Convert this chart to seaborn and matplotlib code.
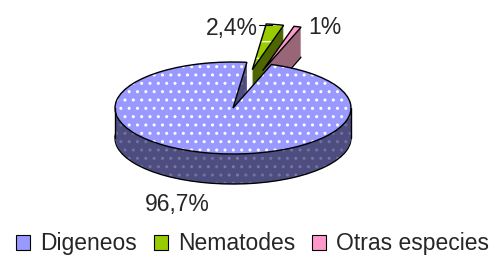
import matplotlib
matplotlib.use("Agg")
import matplotlib.pyplot as plt
from matplotlib.lines import Line2D
import seaborn as sns

# datos del grafico
categorias = ["Digeneos", "Nematodes", "Otras especies"]
porcentajes = [96.7, 2.4, 1.0]
etiquetas = ["96,7%", "2,4%", "1%"]
colores_sup = ["#9999ff", "#99cc00", "#ff99cc"]
colores_lado = ["#4d4d80", "#4d6600", "#996677"]

sns.set_style("white")
plt.rcParams["font.family"] = ["Liberation Sans", "DejaVu Sans"]
plt.rcParams["hatch.linewidth"] = 1.0

W, H = 500, 260
cx, cy = 233, 108      # centro de la elipse (px)
a, b = 118, 46         # semiejes (px)
prof = 30 / b          # espesor en unidades de y
n_capas = 30
explode = [0, 0.85, 0.85]
inicio = 71

fig = plt.figure(figsize=(W / 100, H / 100), dpi=100)
ax = fig.add_axes([0, 0, 1, 1])

def dibujar(dz, caras, borde, z, relleno=True):
    wedges, _ = ax.pie(porcentajes, explode=explode, startangle=inicio,
                       counterclock=False, center=(0, -dz), colors=caras,
                       wedgeprops=dict(linewidth=1.0 if borde else 0,
                                       edgecolor=borde if borde else "none"))
    for i, w in enumerate(wedges):
        base = 1 if i > 0 else 3
        w.set_zorder(base + z)
        if not relleno:
            w.set_fill(False)
    return wedges

# lados (capas apiladas)
for k in range(n_capas + 1):
    dz = prof * (1 - k / n_capas)
    capa = dibujar(dz, colores_lado, "black" if k == 0 else None, k * 0.001)
    if k > 0:
        capa[0].set_hatch("..")
        capa[0].set_edgecolor("#7c7ca8")

# superficie superior
sup = dibujar(0, colores_sup, None, 0.5)
sup[0].set_hatch("..")
sup[0].set_edgecolor("white")
sup[1].set_hatch("-")
sup[1].set_edgecolor("#eeffcc")
dibujar(0, colores_sup, "black", 0.6, relleno=False)

ax.set_aspect("auto")
ax.set_xlim(-cx / a, (W - cx) / a)
ax.set_ylim(-(H - cy) / b, cy / b)
ax.axis("off")

# bordes laterales verticales
for sx in (-1, 1):
    ax.plot([sx, sx], [0, -prof], color="black", lw=1.0, zorder=3.7)

# etiquetas de porcentaje
fs = 16.5
fig.text(177 / W, 1 - 205 / H, etiquetas[0], ha="center", va="center", fontsize=fs)
fig.text(232 / W, 1 - 28 / H, etiquetas[1], ha="center", va="center", fontsize=fs)
fig.text(325 / W, 1 - 27 / H, etiquetas[2], ha="center", va="center", fontsize=fs)
fig.add_artist(Line2D([259 / W, 272 / W], [1 - 25 / H, 1 - 25 / H],
                      color="black", lw=0.8))

# leyenda
handles = [plt.Rectangle((0, 0), 1, 1, facecolor=c, edgecolor="black", lw=0.8)
           for c in colores_sup]
ax.legend(handles, categorias, loc="lower center", bbox_to_anchor=(0.505, 0.0),
          ncol=3, frameon=False, fontsize=fs, handlelength=0.62,
          handleheight=0.62, handletextpad=0.42, columnspacing=0.75,
          borderaxespad=0.0, borderpad=0.2)

fig.savefig("out.png", dpi=100)
